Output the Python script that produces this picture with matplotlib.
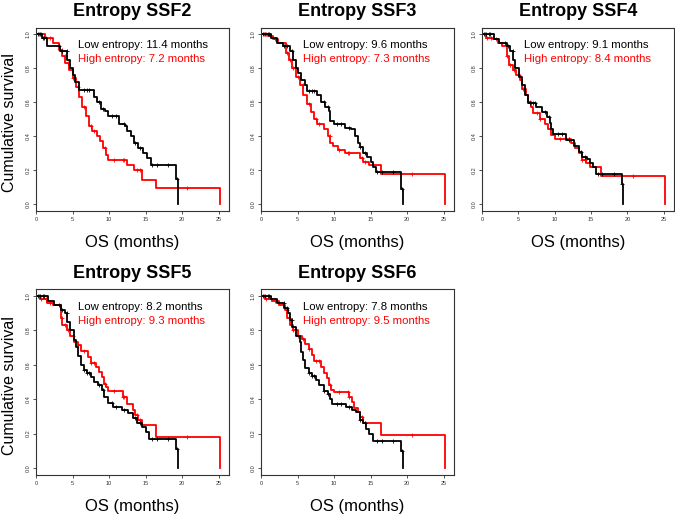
import numpy as np
import matplotlib
matplotlib.use('Agg')
import matplotlib.pyplot as plt

plt.rcParams['font.family'] = ['Liberation Sans', 'DejaVu Sans']

# panel titles and median survival texts
titles = ['Entropy SSF2', 'Entropy SSF3', 'Entropy SSF4', 'Entropy SSF5', 'Entropy SSF6']
low_median = ['11.4', '9.6', '9.1', '8.2', '7.8']
high_median = ['7.2', '7.3', '8.4', '9.3', '9.5']

# step curves: event times and survival after each drop
low_t = [
    [0.8, 1.5, 3.3, 4.3, 4.6, 5.0, 5.4, 5.9, 7.9, 8.4, 8.9, 9.4, 9.9, 11.4, 12.2, 12.5, 13.0, 13.4, 13.9, 14.7, 15.2, 15.7, 19.2, 19.4],
    [1.3, 2.2, 3.0, 4.0, 4.4, 4.8, 5.1, 5.5, 6.0, 6.3, 7.7, 8.2, 8.8, 9.3, 9.5, 10.0, 11.5, 12.3, 12.8, 13.2, 13.6, 14.0, 14.5, 15.0, 15.3, 15.7, 19.2, 19.4],
    [1.6, 2.4, 3.4, 3.9, 4.3, 4.6, 5.1, 5.5, 5.9, 6.3, 7.4, 8.2, 9.0, 9.3, 9.5, 9.8, 11.6, 12.6, 13.3, 13.8, 14.5, 14.8, 15.3, 15.7, 19.2, 19.4],
    [1.6, 2.5, 3.4, 4.0, 4.3, 4.6, 5.2, 5.5, 5.8, 6.1, 6.5, 7.0, 7.5, 8.0, 8.5, 9.0, 9.3, 9.8, 10.5, 11.7, 12.6, 13.2, 13.8, 14.5, 15.0, 15.5, 19.2, 19.4],
    [1.4, 2.2, 3.2, 3.7, 4.0, 4.3, 4.8, 5.3, 5.5, 5.8, 6.0, 6.5, 7.0, 7.5, 8.0, 8.6, 9.1, 9.4, 9.7, 11.6, 12.5, 13.0, 13.5, 14.0, 14.3, 14.8, 15.3, 19.2, 19.4],
]
low_s = [
    [0.98, 0.93, 0.90, 0.85, 0.80, 0.76, 0.72, 0.67, 0.63, 0.60, 0.56, 0.55, 0.52, 0.47, 0.46, 0.43, 0.40, 0.36, 0.33, 0.30, 0.27, 0.23, 0.15, 0.0],
    [0.98, 0.95, 0.93, 0.90, 0.85, 0.80, 0.77, 0.73, 0.70, 0.665, 0.64, 0.60, 0.57, 0.55, 0.49, 0.47, 0.45, 0.44, 0.40, 0.36, 0.335, 0.30, 0.28, 0.25, 0.22, 0.19, 0.09, 0.0],
    [0.97, 0.95, 0.93, 0.90, 0.85, 0.80, 0.75, 0.70, 0.645, 0.595, 0.57, 0.545, 0.515, 0.48, 0.44, 0.415, 0.38, 0.345, 0.31, 0.28, 0.265, 0.24, 0.22, 0.18, 0.12, 0.0],
    [0.97, 0.95, 0.92, 0.90, 0.85, 0.80, 0.745, 0.705, 0.65, 0.60, 0.57, 0.555, 0.53, 0.50, 0.48, 0.455, 0.415, 0.38, 0.355, 0.335, 0.32, 0.29, 0.26, 0.24, 0.21, 0.17, 0.11, 0.0],
    [0.98, 0.96, 0.93, 0.90, 0.86, 0.82, 0.77, 0.73, 0.675, 0.625, 0.58, 0.55, 0.535, 0.51, 0.48, 0.45, 0.43, 0.40, 0.37, 0.355, 0.34, 0.325, 0.28, 0.26, 0.23, 0.20, 0.16, 0.10, 0.0],
]
high_t = [
    [1.2, 2.3, 3.2, 3.6, 4.0, 4.5, 5.0, 5.5, 5.9, 6.3, 6.9, 7.3, 7.7, 8.3, 8.8, 9.2, 9.6, 9.9, 12.4, 13.4, 14.5, 16.4, 25.2],
    [1.0, 1.6, 2.3, 3.4, 3.8, 4.2, 4.8, 5.3, 5.8, 6.3, 6.8, 7.3, 7.7, 8.6, 9.2, 9.5, 9.8, 10.5, 11.5, 13.5, 14.0, 14.8, 16.4, 25.2],
    [0.5, 1.5, 2.2, 2.8, 3.4, 3.7, 4.3, 4.7, 5.2, 5.5, 6.0, 6.3, 6.8, 7.0, 8.0, 8.6, 9.1, 9.5, 10.0, 12.2, 12.8, 13.3, 13.8, 14.3, 14.8, 16.4, 25.2],
    [0.5, 1.5, 2.3, 3.4, 3.6, 4.2, 4.6, 5.2, 5.7, 6.1, 7.1, 7.5, 8.2, 8.6, 9.0, 9.3, 9.6, 9.9, 11.9, 12.5, 13.2, 13.6, 14.0, 14.5, 16.4, 25.2],
    [0.5, 1.5, 2.5, 3.3, 3.6, 4.0, 4.4, 5.0, 5.6, 6.0, 6.6, 7.0, 7.3, 8.2, 8.6, 9.0, 9.3, 9.6, 10.0, 12.0, 12.5, 12.7, 13.2, 13.5, 14.0, 16.4, 25.2],
]
high_s = [
    [0.98, 0.95, 0.91, 0.87, 0.83, 0.79, 0.74, 0.69, 0.63, 0.57, 0.52, 0.46, 0.43, 0.40, 0.37, 0.33, 0.29, 0.26, 0.23, 0.20, 0.145, 0.095, 0.0],
    [0.99, 0.97, 0.95, 0.89, 0.85, 0.80, 0.75, 0.70, 0.64, 0.59, 0.54, 0.50, 0.47, 0.445, 0.40, 0.36, 0.34, 0.32, 0.30, 0.27, 0.25, 0.23, 0.175, 0.0],
    [0.98, 0.97, 0.95, 0.93, 0.87, 0.82, 0.79, 0.76, 0.73, 0.68, 0.645, 0.60, 0.57, 0.535, 0.50, 0.47, 0.44, 0.41, 0.385, 0.36, 0.33, 0.30, 0.26, 0.24, 0.22, 0.165, 0.0],
    [0.98, 0.96, 0.945, 0.87, 0.83, 0.80, 0.765, 0.735, 0.715, 0.68, 0.645, 0.61, 0.59, 0.56, 0.53, 0.49, 0.47, 0.445, 0.415, 0.375, 0.335, 0.31, 0.28, 0.25, 0.18, 0.0],
    [0.98, 0.97, 0.95, 0.92, 0.87, 0.83, 0.80, 0.77, 0.75, 0.72, 0.69, 0.655, 0.62, 0.59, 0.555, 0.525, 0.485, 0.455, 0.44, 0.415, 0.385, 0.35, 0.325, 0.295, 0.26, 0.195, 0.0],
]

# censoring times (the + marks)
low_cens = [0.3, 0.6, 0.9, 1.1, 3.1, 3.6, 4.2, 6.6, 7.0, 7.3, 8.6, 9.2, 10.4, 11.0, 12.0, 13.6, 14.2, 15.9, 16.5, 18.1, 19.25]
high_cens = [0.4, 0.7, 1.3, 1.9, 3.5, 3.9, 4.4, 5.1, 5.7, 6.6, 7.5, 8.0, 9.4, 10.7, 11.9, 12.0, 13.8, 14.2, 20.7]

W, H = 675, 518
# axes boxes in pixels: left, top, width, height
boxes = [(36, 27.5, 193, 183.5), (261, 27.5, 193, 183.5), (482, 27.5, 192, 183.5),
         (36, 289, 193, 186), (261, 289, 193, 186)]


def km(ax, t, s, cens, color):
    tt = np.r_[0.0, t]
    ss = np.r_[1.0, s]
    ax.step(tt, ss, where='post', color=color, lw=1.3)
    idx = np.searchsorted(tt, cens, side='right') - 1
    ax.plot(cens, ss[idx], ls='none', marker='+', ms=3.5, mew=0.6, color=color)


fig = plt.figure(figsize=(W / 100, H / 100), dpi=100)
for i in range(5):
    l, t, w, h = boxes[i]
    ax = fig.add_axes([l / W, 1 - (t + h) / H, w / W, h / H])
    km(ax, high_t[i], high_s[i], high_cens, 'red')
    km(ax, low_t[i], low_s[i], low_cens, 'black')
    ax.set_xlim(0, 26.4)
    ax.set_ylim(-0.04, 1.04)
    ax.set_xticks([0, 5, 10, 15, 20, 25])
    ax.set_yticks([0.0, 0.2, 0.4, 0.6, 0.8, 1.0])
    ax.set_yticklabels(['0.0', '0.2', '0.4', '0.6', '0.8', '1.0'], rotation=90, va='center')
    ax.tick_params(length=2.5, width=0.6, labelsize=4, pad=1.5, colors='#333333')
    for sp in ax.spines.values():
        sp.set_linewidth(0.8)
        sp.set_color('#333333')
    ax.set_title(titles[i], fontsize=13, fontweight='bold', pad=8)
    ax.set_xlabel('OS (months)', fontsize=12, labelpad=10)
    if i in (0, 3):
        ax.set_ylabel('Cumulative survival', fontsize=11.5, va='center')
        ax.yaxis.set_label_coords(-26 / w, 0.48)
    ax.text(0.22, 0.905, 'Low entropy: %s months' % low_median[i], transform=ax.transAxes,
            fontsize=8.2, color='black', va='center')
    ax.text(0.22, 0.83, 'High entropy: %s months' % high_median[i], transform=ax.transAxes,
            fontsize=8.2, color='red', va='center')

fig.savefig('out.png', dpi=100)
